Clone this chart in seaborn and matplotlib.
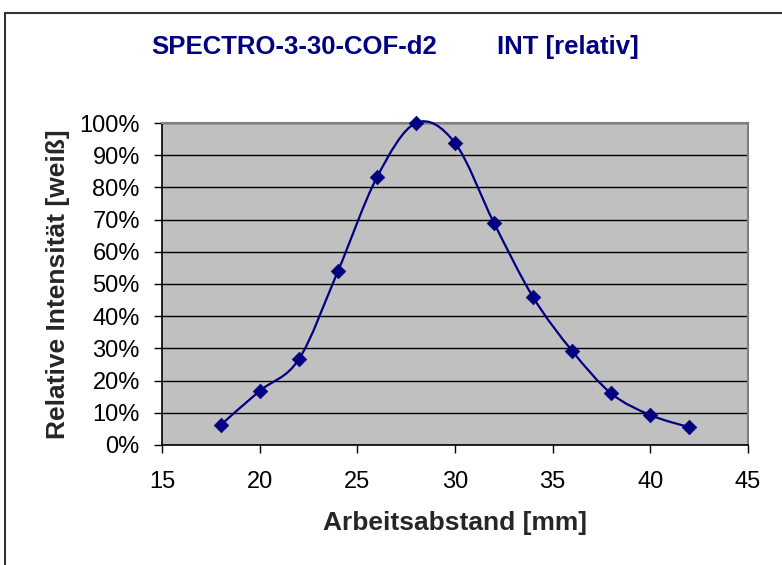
import numpy as np
import pandas as pd
import seaborn as sns
import matplotlib.pyplot as plt
from matplotlib.path import Path
from matplotlib.patches import PathPatch
from matplotlib.lines import Line2D
from matplotlib.ticker import PercentFormatter, MultipleLocator

# values
abstand_mm = [18, 20, 22, 24, 26, 28, 30, 32, 34, 36, 38, 40, 42]
intensitaet_pct = [6.2, 16.8, 26.6, 53.9, 83.1, 100.0, 93.8, 68.9, 45.9, 29.2, 16.0, 9.3, 5.5]
title_left = "SPECTRO-3-30-COF-d2"
title_right = "INT [relativ]"
x_label = "Arbeitsabstand [mm]"
y_label = "Relative Intensität [weiß]"

navy = "#000080"
df = pd.DataFrame({"x": abstand_mm, "y": intensitaet_pct})

sns.set_style("white")
plt.rcParams["font.family"] = ["Liberation Sans", "DejaVu Sans"]

fig = plt.figure(figsize=(7.82, 5.65), dpi=100)
ax = fig.add_axes([0.2072, 0.2124, 0.9565 - 0.2072, 0.7823 - 0.2124])
ax.set_facecolor("#C0C0C0")

# Excel-like smoothed line: cubic Bezier segments through the data points
pts = df[["x", "y"]].to_numpy(dtype=float)
n = len(pts)
verts = [pts[0]]
codes = [Path.MOVETO]
for i in range(n - 1):
    p0 = pts[max(i - 1, 0)]
    p1 = pts[i]
    p2 = pts[i + 1]
    p3 = pts[min(i + 2, n - 1)]
    c1 = p1 + (p2 - p0) / 6.0
    c2 = p2 - (p3 - p1) / 6.0
    verts += [c1, c2, p2]
    codes += [Path.CURVE4] * 3
curve = PathPatch(Path(verts, codes), facecolor="none", edgecolor=navy,
                  lw=1.6, transform=ax.transData, clip_on=False, zorder=3)
ax.add_patch(curve)

sns.scatterplot(data=df, x="x", y="y", ax=ax, marker="D", color=navy,
                s=55, edgecolor=navy, linewidth=0.5, zorder=4, clip_on=False)

ax.set_xlim(15, 45)
ax.set_ylim(0, 100)
ax.xaxis.set_major_locator(MultipleLocator(5))
ax.yaxis.set_major_locator(MultipleLocator(10))
ax.yaxis.set_major_formatter(PercentFormatter(xmax=100, decimals=0))
ax.grid(axis="y", color="black", lw=1.0)
ax.set_axisbelow(True)

for side in ["top", "right"]:
    ax.spines[side].set_color("#808080")
    ax.spines[side].set_linewidth(1.5)
for side in ["left", "bottom"]:
    ax.spines[side].set_color("black")
    ax.spines[side].set_linewidth(1.2)

ax.tick_params(axis="both", direction="out", length=6, width=1, color="black",
               labelsize=17, labelcolor="black", left=True, bottom=True)
ax.tick_params(axis="y", pad=10)
ax.tick_params(axis="x", pad=13)

ax.set_xlabel(x_label, fontsize=19, fontweight="bold", labelpad=13)
ax.set_ylabel(y_label, fontsize=19, fontweight="bold", labelpad=7)

fig.text(151 / 782, 1 - 47 / 565, title_left, color=navy, fontsize=18.5,
         fontweight="bold", ha="left", va="center")
fig.text(497 / 782, 1 - 47 / 565, title_right, color=navy, fontsize=18.5,
         fontweight="bold", ha="left", va="center")

# chart area frame (top and left edges visible in the reference)
fig.add_artist(Line2D([5 / 782, 1], [1 - 13 / 565, 1 - 13 / 565],
                      transform=fig.transFigure, color="#333333", lw=1.5))
fig.add_artist(Line2D([5 / 782, 5 / 782], [0, 1 - 13 / 565],
                      transform=fig.transFigure, color="#333333", lw=1.5))

fig.savefig("out.png", dpi=100)
